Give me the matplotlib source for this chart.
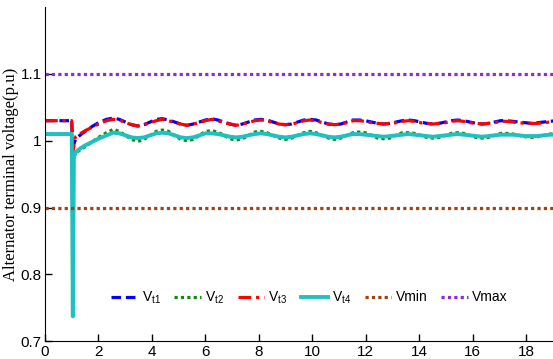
import numpy as np
import matplotlib
matplotlib.use("Agg")
import matplotlib.pyplot as plt

# time axis (s): transient part, then a regular grid through the oscillation
t_transient = [0, 1.0, 1.04, 1.08, 1.15, 1.3, 1.5, 1.75, 2.0, 2.3]
t_osc = list(np.round(np.arange(2.55, 19.2, 0.23), 2))
time = t_transient + t_osc

# alternator terminal voltages (p.u)
vt1 = [1.03, 1.03, 0.975, 0.995, 1.003, 1.008, 1.014, 1.021, 1.027, 1.032,
       1.034, 1.032, 1.028, 1.024, 1.022, 1.024, 1.028, 1.032,
       1.033, 1.031, 1.028, 1.025, 1.023, 1.025, 1.028, 1.031,
       1.033, 1.031, 1.028, 1.025, 1.023, 1.025, 1.028, 1.031,
       1.032, 1.031, 1.028, 1.025, 1.024, 1.025, 1.028, 1.031,
       1.032, 1.031, 1.028, 1.025, 1.024, 1.025, 1.028, 1.031,
       1.031, 1.030, 1.028, 1.026, 1.025, 1.026, 1.028, 1.030,
       1.031, 1.030, 1.028, 1.026, 1.025, 1.026, 1.028, 1.030,
       1.031, 1.030, 1.028, 1.026, 1.025, 1.026, 1.028, 1.030,
       1.030, 1.029, 1.028, 1.027, 1.026, 1.027, 1.028, 1.029,
       1.030]
vt2 = [1.01, 1.01, 0.975, 0.978, 0.982, 0.986, 0.991, 0.998, 1.005, 1.012,
       1.017, 1.014, 1.008, 1.002, 0.999, 1.002, 1.008, 1.014,
       1.016, 1.014, 1.008, 1.002, 1.000, 1.002, 1.008, 1.014,
       1.015, 1.013, 1.008, 1.003, 1.001, 1.003, 1.008, 1.013,
       1.014, 1.012, 1.008, 1.004, 1.002, 1.004, 1.008, 1.012,
       1.014, 1.012, 1.008, 1.004, 1.002, 1.004, 1.008, 1.012,
       1.013, 1.012, 1.008, 1.004, 1.003, 1.004, 1.008, 1.012,
       1.012, 1.011, 1.008, 1.005, 1.004, 1.005, 1.008, 1.011,
       1.012, 1.011, 1.008, 1.005, 1.004, 1.005, 1.008, 1.011,
       1.011, 1.010, 1.008, 1.006, 1.005, 1.006, 1.008, 1.010,
       1.010]
vt3 = [1.03, 1.03, 0.985, 1.000, 1.006, 1.010, 1.015, 1.020, 1.025, 1.030,
       1.032, 1.031, 1.027, 1.024, 1.022, 1.024, 1.027, 1.030,
       1.032, 1.030, 1.027, 1.025, 1.023, 1.025, 1.027, 1.030,
       1.032, 1.030, 1.027, 1.025, 1.023, 1.025, 1.027, 1.030,
       1.031, 1.030, 1.027, 1.025, 1.024, 1.025, 1.027, 1.030,
       1.031, 1.030, 1.027, 1.025, 1.024, 1.025, 1.027, 1.030,
       1.030, 1.029, 1.027, 1.026, 1.025, 1.026, 1.027, 1.029,
       1.030, 1.029, 1.027, 1.026, 1.025, 1.026, 1.027, 1.029,
       1.030, 1.029, 1.027, 1.026, 1.025, 1.026, 1.027, 1.029,
       1.029, 1.028, 1.027, 1.026, 1.026, 1.026, 1.027, 1.028,
       1.029]
vt4 = [1.01, 1.01, 0.737, 0.975, 0.983, 0.988, 0.993, 0.998, 1.003, 1.008,
       1.012, 1.011, 1.008, 1.005, 1.004, 1.005, 1.008, 1.011,
       1.012, 1.011, 1.008, 1.005, 1.004, 1.005, 1.008, 1.011,
       1.011, 1.010, 1.008, 1.006, 1.005, 1.006, 1.008, 1.010,
       1.011, 1.010, 1.008, 1.006, 1.005, 1.006, 1.008, 1.010,
       1.011, 1.010, 1.008, 1.006, 1.005, 1.006, 1.008, 1.010,
       1.010, 1.009, 1.008, 1.007, 1.006, 1.007, 1.008, 1.009,
       1.010, 1.009, 1.008, 1.007, 1.006, 1.007, 1.008, 1.009,
       1.010, 1.009, 1.008, 1.007, 1.006, 1.007, 1.008, 1.009,
       1.009, 1.009, 1.008, 1.007, 1.007, 1.007, 1.008, 1.009,
       1.009]
v_min = 0.9
v_max = 1.1

x_ticks = list(range(0, 19, 2))
y_ticks = [0.7, 0.8, 0.9, 1.0, 1.1]
y_tick_labels = ['0.7', '0.8', '0.9', '1', '1.1']

plt.rcParams['font.family'] = ['Liberation Sans', 'DejaVu Sans']

fig = plt.figure(figsize=(5.53, 3.59), dpi=100)
ax = fig.add_axes([0.0814, 0.050, 0.9186, 0.930])

ax.plot(time, vt1, color='#0000ff', linestyle=(0, (3, 1.5)), linewidth=2.3, label=r'$\mathregular{V_{t1}}$')
ax.plot(time, vt2, color='#118a11', linestyle=(0, (1, 1)), linewidth=2.3, label=r'$\mathregular{V_{t2}}$')
ax.plot(time, vt3, color='#ff0000', linestyle=(0, (4, 1.5, 1, 1.5)), linewidth=2.3, label=r'$\mathregular{V_{t3}}$')
ax.plot(time, vt4, color='#1fc0c0', linestyle='-', linewidth=2.8, label=r'$\mathregular{V_{t4}}$')
ax.axhline(v_min, color='#a0430f', linestyle=(0, (1, 1)), linewidth=2.3, label='Vmin')
ax.axhline(v_max, color='#8a2be2', linestyle=(0, (1, 1)), linewidth=2.3, label='Vmax')

ax.set_xlim(0, 19)
ax.set_ylim(0.7, 1.2)
ax.set_xticks(x_ticks)
ax.set_yticks(y_ticks)
ax.set_yticklabels(y_tick_labels)
ax.tick_params(direction='in', length=5, width=1, labelsize=11, pad=2.5)
ax.spines['top'].set_visible(False)
ax.spines['right'].set_visible(False)

ax.set_ylabel('Alternator terminal voltage(p.u)', fontfamily=['Liberation Serif', 'DejaVu Serif'],
              fontsize=12, labelpad=1)

ax.legend(loc='center', bbox_to_anchor=(0.52, 0.13), ncol=6, frameon=False, fontsize=10,
          handlelength=1.9, handletextpad=0.3, columnspacing=1.0, borderaxespad=0)

fig.savefig('out.png', dpi=100)
